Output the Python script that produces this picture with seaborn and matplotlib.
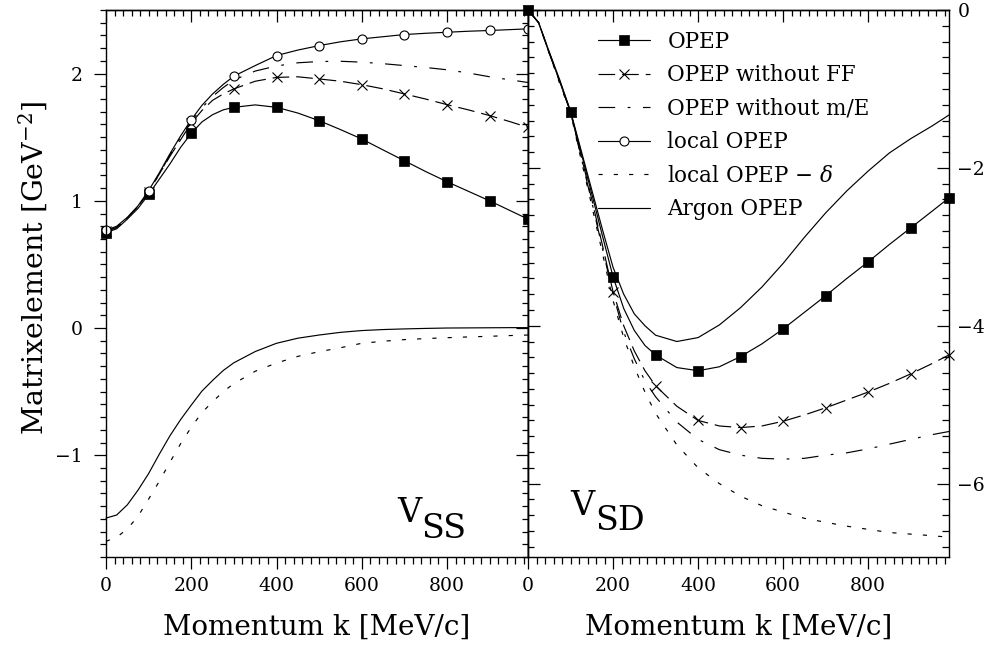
import matplotlib
matplotlib.use("Agg")
import numpy as np
import pandas as pd
import seaborn as sns
import matplotlib.pyplot as plt
from matplotlib.ticker import MultipleLocator, FixedLocator
from matplotlib.lines import Line2D

# ---------------- data ----------------
k = [0, 25, 50, 75, 100, 125, 150, 175, 200, 225, 250, 275, 300, 350, 400,
     450, 500, 550, 600, 650, 700, 750, 800, 850, 900, 950, 990]
marker_k = [0, 100, 200, 300, 400, 500, 600, 700, 800, 900, 990]

names = ["OPEP", "OPEP without FF", "OPEP without m/E", "local OPEP",
         "local OPEP − $\\delta$", "Argon OPEP"]

# V_SS (left panel), GeV^-2
ss_opep = [0.75, 0.78, 0.856, 0.94, 1.05, 1.17, 1.29, 1.42, 1.53, 1.62, 1.677, 1.715,
           1.735, 1.754, 1.735, 1.69, 1.63, 1.56, 1.486, 1.40, 1.315, 1.23, 1.15,
           1.075, 1.0, 0.92, 0.856]
ss_noff = [0.76, 0.79, 0.865, 0.955, 1.07, 1.21, 1.35, 1.48, 1.61, 1.71, 1.79, 1.84,
           1.88, 1.94, 1.97, 1.975, 1.958, 1.94, 1.913, 1.88, 1.84, 1.80, 1.756,
           1.715, 1.67, 1.62, 1.577]
ss_nome = [0.76, 0.79, 0.865, 0.955, 1.07, 1.21, 1.36, 1.50, 1.625, 1.73, 1.82, 1.89,
           1.95, 2.02, 2.06, 2.085, 2.095, 2.097, 2.09, 2.078, 2.063, 2.048, 2.03,
           2.005, 1.975, 1.95, 1.93]
ss_local = [0.77, 0.80, 0.87, 0.96, 1.08, 1.22, 1.37, 1.51, 1.638, 1.75, 1.84, 1.915,
            1.98, 2.063, 2.142, 2.185, 2.22, 2.25, 2.273, 2.29, 2.307, 2.317, 2.325,
            2.333, 2.339, 2.346, 2.352]
ss_delta = [-1.677, -1.645, -1.58, -1.48, -1.345, -1.205, -1.055, -0.91, -0.78, -0.665,
            -0.58, -0.50, -0.437, -0.34, -0.275, -0.223, -0.186, -0.155, -0.12, -0.104,
            -0.091, -0.083, -0.076, -0.070, -0.065, -0.059, -0.055]
ss_argon = [-1.494, -1.47, -1.39, -1.275, -1.144, -0.992, -0.847, -0.72, -0.606, -0.496,
            -0.412, -0.334, -0.273, -0.185, -0.12, -0.08, -0.055, -0.034, -0.02, -0.012,
            -0.007, -0.003, 0.0, 0.001, 0.002, 0.003, 0.003]

# V_SD (right panel)
sd_opep = [0.0, -0.16, -0.55, -0.91, -1.29, -1.81, -2.33, -2.86, -3.38, -3.78, -4.06,
           -4.25, -4.37, -4.53, -4.57, -4.52, -4.39, -4.23, -4.04, -3.83, -3.62, -3.40,
           -3.19, -2.97, -2.76, -2.55, -2.38]
sd_noff = [0.0, -0.16, -0.54, -0.91, -1.29, -1.85, -2.40, -2.98, -3.57, -4.0, -4.32,
           -4.57, -4.76, -5.02, -5.20, -5.27, -5.29, -5.27, -5.21, -5.13, -5.04, -4.94,
           -4.84, -4.73, -4.61, -4.48, -4.37]
sd_nome = [0.0, -0.16, -0.54, -0.92, -1.29, -1.87, -2.43, -3.02, -3.60, -4.08, -4.42,
           -4.70, -4.90, -5.22, -5.44, -5.57, -5.64, -5.68, -5.69, -5.68, -5.64, -5.61,
           -5.56, -5.50, -5.44, -5.38, -5.34]
sd_delta = [0.0, -0.16, -0.55, -0.94, -1.30, -1.90, -2.48, -3.08, -3.68, -4.15, -4.52,
            -4.84, -5.11, -5.51, -5.80, -6.00, -6.16, -6.28, -6.36, -6.44, -6.49, -6.54,
            -6.58, -6.62, -6.64, -6.66, -6.68]
sd_argon = [0.0, -0.16, -0.53, -0.89, -1.28, -1.78, -2.28, -2.78, -3.26, -3.60, -3.85,
            -4.00, -4.12, -4.20, -4.15, -3.99, -3.77, -3.51, -3.21, -2.88, -2.57, -2.29,
            -2.04, -1.81, -1.63, -1.47, -1.33]

x_ticks = [0, 200, 400, 600, 800]
ss_ticks = [-1, 0, 1, 2]
sd_ticks = [-6, -4, -2, 0]

# ---------------- style ----------------
sns.set_theme(style="ticks")
plt.rcParams["font.family"] = ["DejaVu Serif"]
plt.rcParams["mathtext.fontset"] = "dejavuserif"
plt.rcParams["lines.scale_dashes"] = False
plt.rcParams["axes.edgecolor"] = "black"
plt.rcParams["axes.labelcolor"] = "black"
plt.rcParams["text.color"] = "black"
plt.rcParams["xtick.color"] = "black"
plt.rcParams["ytick.color"] = "black"
plt.rcParams["axes.linewidth"] = 1.0

styles = {
    names[0]: dict(linestyle="-", marker="s", markersize=7, markerfacecolor="black",
                   markeredgecolor="black", markeredgewidth=0.5),
    names[1]: dict(linestyle=(0, (12, 5)), marker="x", markersize=7.5,
                   markeredgecolor="black", markeredgewidth=0.8),
    names[2]: dict(linestyle=(0, (12, 9, 2, 9))),
    names[3]: dict(linestyle="-", marker="o", markersize=6.5, markerfacecolor="white",
                   markeredgecolor="black", markeredgewidth=0.8),
    names[4]: dict(linestyle=(0, (3, 8))),
    names[5]: dict(linestyle="-"),
}

mark_idx = [k.index(m) for m in marker_k]

W, H = 993, 651
fig = plt.figure(figsize=(W / 100, H / 100), dpi=100)
axL = fig.add_axes([106 / W, 1 - 557 / H, 422 / W, 547 / H])
axR = fig.add_axes([528 / W, 1 - 557 / H, 421 / W, 547 / H])

left_series = [ss_opep, ss_noff, ss_nome, ss_local, ss_delta, ss_argon]
right_series = [sd_opep, sd_noff, sd_nome, None, sd_delta, sd_argon]


def draw(ax, series):
    rows = []
    for name, vals in zip(names, series):
        if vals is None:
            continue
        rows.append(pd.DataFrame({"k": k, "v": vals, "series": name}))
    df = pd.concat(rows, ignore_index=True)
    for name in names:
        sub = df[df["series"] == name]
        if sub.empty:
            continue
        st = dict(styles[name])
        if "marker" in st:
            st["markevery"] = mark_idx
        sns.lineplot(data=sub, x="k", y="v", ax=ax, color="black", linewidth=0.85,
                     errorbar=None, legend=False, clip_on=False, **st)


draw(axL, left_series)
draw(axR, right_series)

tick_kw = dict(labelsize=13.5, width=0.9)
for ax in (axL, axR):
    ax.set_xlim(0, 990)
    ax.xaxis.set_major_locator(FixedLocator(x_ticks))
    ax.xaxis.set_minor_locator(MultipleLocator(20))
    ax.tick_params(axis="x", which="both", direction="out", top=False, pad=6, **tick_kw)
    ax.tick_params(axis="x", which="major", length=8.5)
    ax.tick_params(axis="x", which="minor", length=5)
    top = ax.secondary_xaxis("top")
    top.xaxis.set_major_locator(MultipleLocator(200))
    top.xaxis.set_minor_locator(MultipleLocator(20))
    top.tick_params(axis="x", which="both", direction="in", labeltop=False, width=0.9)
    top.tick_params(axis="x", which="major", length=8.5)
    top.tick_params(axis="x", which="minor", length=4)
    ax.set_xlabel("Momentum k [MeV/c]", fontsize=20)
    ax.xaxis.set_label_coords(0.5, -0.104)
    for s in ax.spines.values():
        s.set_color("black")
        s.set_linewidth(1.0)

# left panel y axis
axL.set_ylim(-1.8, 2.5)
axL.yaxis.set_major_locator(FixedLocator(ss_ticks))
axL.yaxis.set_minor_locator(MultipleLocator(0.1))
axL.tick_params(axis="y", which="both", direction="out", right=False, pad=8, **tick_kw)
axL.tick_params(axis="y", which="major", length=8.5)
axL.tick_params(axis="y", which="minor", length=4.5)
rL = axL.secondary_yaxis("right")
rL.yaxis.set_major_locator(MultipleLocator(1))
rL.yaxis.set_minor_locator(MultipleLocator(0.1))
rL.tick_params(axis="y", which="both", direction="in", labelright=False, width=0.9)
rL.tick_params(axis="y", which="major", length=8.5)
rL.tick_params(axis="y", which="minor", length=4.5)
axL.set_ylabel("Matrixelement [GeV$^{-2}$]", fontsize=20.5)
axL.yaxis.set_label_coords(-0.133, 0.528)

# right panel y axis
axR.set_ylim(-6.93, 0)
axR.yaxis.tick_right()
axR.yaxis.set_major_locator(FixedLocator(sd_ticks))
axR.yaxis.set_minor_locator(MultipleLocator(0.2))
axR.tick_params(axis="y", which="both", direction="in", left=False, right=True,
                labelleft=False, labelright=True, pad=6, **tick_kw)
axR.tick_params(axis="y", which="major", length=8.5)
axR.tick_params(axis="y", which="minor", length=5)
axR.set_ylabel("")
lR = axR.secondary_yaxis("left")
lR.yaxis.set_major_locator(MultipleLocator(2))
lR.yaxis.set_minor_locator(MultipleLocator(0.2))
lR.tick_params(axis="y", which="both", direction="in", labelleft=False, width=0.9)
lR.tick_params(axis="y", which="major", length=8.5)
lR.tick_params(axis="y", which="minor", length=4.5)

# panel labels
axL.text(0.690, 0.064, "V", transform=axL.transAxes, fontsize=24, ha="left", va="baseline")
axL.text(0.746, 0.035, "SS", transform=axL.transAxes, fontsize=24, ha="left", va="baseline")
axR.text(0.100, 0.077, "V", transform=axR.transAxes, fontsize=24, ha="left", va="baseline")
axR.text(0.160, 0.049, "SD", transform=axR.transAxes, fontsize=24, ha="left", va="baseline")

# legend
handles = []
for name in names:
    st = dict(styles[name])
    handles.append(Line2D([], [], color="black", linewidth=0.85, **st))
axR.legend(handles, names, loc="upper left", bbox_to_anchor=(598 / W, 1 - 31 / H),
           bbox_transform=fig.transFigure, frameon=False, fontsize=15.5, numpoints=1,
           handlelength=2.42, handletextpad=0.8, labelspacing=0.53, borderpad=0,
           borderaxespad=0)

fig.savefig("out.png", dpi=100)
